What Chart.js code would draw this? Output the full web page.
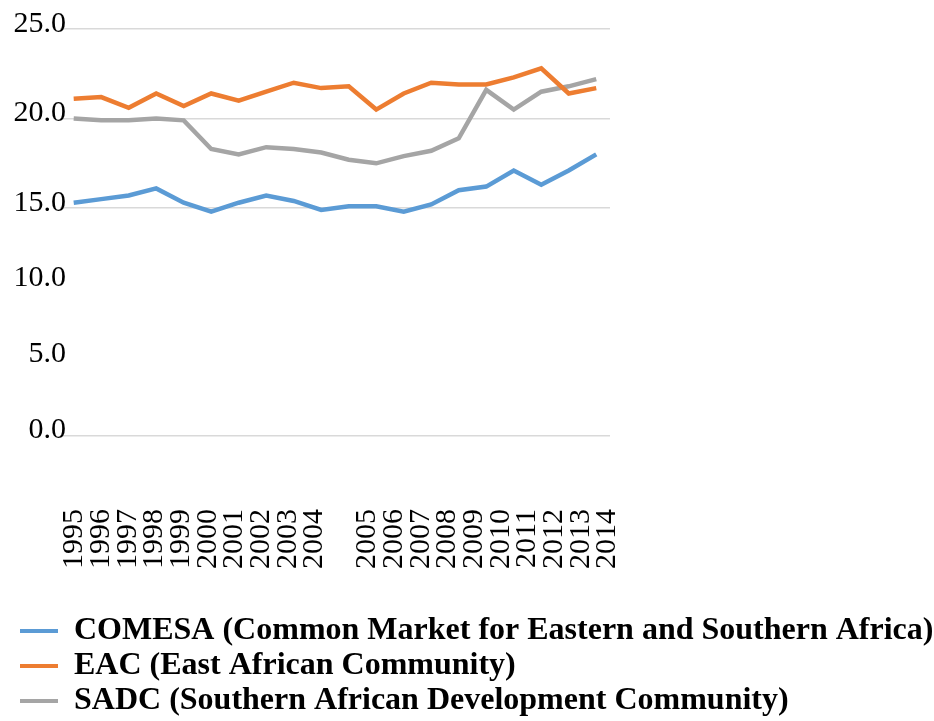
<!DOCTYPE html>
<html lang="en">
<head>
<meta charset="utf-8">
<title>COMESA / EAC / SADC</title>
<script src="https://cdn.jsdelivr.net/npm/chart.js@4.4.1/dist/chart.umd.min.js"></script>
<style>
    html, body { margin: 0; padding: 0; background: #fff; }
    #wrap { position: relative; width: 934px; height: 721px; }
</style>
</head>
<body>
<div id="wrap"><canvas id="chart"></canvas></div>
<script>
/**
 * Values
 */
const years = ['1995', '1996', '1997', '1998', '1999', '2000', '2001', '2002', '2003', '2004',
               '2005', '2006', '2007', '2008', '2009', '2010', '2011', '2012', '2013', '2014'];

// year labels as printed under the plot (one empty slot between 2004 and 2005)
const yearTicks = ['1995', '1996', '1997', '1998', '1999', '2000', '2001', '2002', '2003', '2004', '',
                   '2005', '2006', '2007', '2008', '2009', '2010', '2011', '2012', '2013', '2014'];

const comesa = [15.3, 15.5, 15.7, 16.1, 15.3, 14.8, 15.3, 15.7, 15.4, 14.9,
                15.1, 15.1, 14.8, 15.2, 16.0, 16.2, 17.1, 16.3, 17.1, 18.0];
const eac    = [21.1, 21.2, 20.6, 21.4, 20.7, 21.4, 21.0, 21.5, 22.0, 21.7,
                21.8, 20.5, 21.4, 22.0, 21.9, 21.9, 22.3, 22.8, 21.4, 21.7];
const sadc   = [20.0, 19.9, 19.9, 20.0, 19.9, 18.3, 18.0, 18.4, 18.3, 18.1,
                17.7, 17.5, 17.9, 18.2, 18.9, 21.6, 20.5, 21.5, 21.8, 22.2];

// y labels that are printed
const yLabelValues = [0, 5, 10, 15, 20, 25];

const seriesNames = [
    'COMESA (Common Market for Eastern and Southern Africa)',
    'EAC (East African Community)',
    'SADC (Southern African Development Community)'
];

const SERIF = "'Liberation Serif', 'Times New Roman', serif";
const GRID = '#d9d9d9';
const COLORS = ['#5b9bd5', '#ed7d31', '#a5a5a5'];

function lineDataset(label, data, color) {
    return {
        label, data,
        borderColor: color,
        backgroundColor: color,
        borderWidth: 4.5,
        pointRadius: 0,
        tension: 0,
        clip: false,
        xAxisID: 'x',
        yAxisID: 'yTop'
    };
}

function yLabel(v) {
    return yLabelValues.includes(v) ? v.toFixed(1) : '';
}

// y labels overlap the plot a little: fixed width, and no clipping to the axis box
function fitYAxis(s) {
    s.width = 41;
    s._computeLabelArea = () => undefined;
}

new Chart(document.getElementById('chart'), {
    type: 'line',
    data: {
        labels: years,
        datasets: [
            lineDataset(seriesNames[0], comesa, COLORS[0]),
            lineDataset(seriesNames[1], eac, COLORS[1]),
            lineDataset(seriesNames[2], sadc, COLORS[2])
        ]
    },
    options: {
        responsive: true,
        maintainAspectRatio: false,
        animation: false,
        devicePixelRatio: 1,
        layout: { padding: { left: 17, right: 0, top: 29, bottom: -6 } },
        plugins: {
            tooltip: { enabled: false },
            legend: {
                position: 'bottom',
                align: 'start',
                labels: {
                    boxWidth: 38,
                    boxHeight: 4,
                    padding: 3,
                    color: '#000',
                    font: { family: SERIF, size: 32, weight: 'bold' },
                    generateLabels: (chart) => Chart.defaults.plugins.legend.labels
                        .generateLabels(chart).map(item => ({ ...item, lineWidth: 0 }))
                }
            }
        },
        scales: {
            // data axis, hidden
            x: {
                type: 'category',
                display: false,
                offset: true
            },
            // printed year labels
            xLabels: {
                type: 'linear',
                position: 'bottom',
                min: -0.55,
                max: 20.1,
                grid: { display: false, drawTicks: false },
                border: { display: false },
                ticks: {
                    stepSize: 1,
                    includeBounds: false,
                    autoSkip: false,
                    minRotation: 90,
                    maxRotation: 90,
                    padding: 73,
                    color: '#000',
                    font: { family: SERIF, size: 30 },
                    callback: (v) => yearTicks[v] !== undefined ? yearTicks[v] : null
                },
                afterFit: (s) => { s.height = 176; }
            },
            // empty space right of the plot
            yRight: {
                type: 'linear',
                position: 'right',
                grid: { display: false, drawTicks: false },
                border: { display: false },
                ticks: { display: false },
                afterFit: (s) => { s.width = 324; }
            },
            // lower part of the broken value axis (0 - 15)
            yBottom: {
                type: 'linear',
                position: 'left',
                stack: 'left',
                stackWeight: 56,
                min: 0,
                max: 15,
                border: { display: false },
                grid: {
                    drawTicks: false,
                    lineWidth: 1.5,
                    color: (ctx) => ctx.tick && ctx.tick.value === 0 ? GRID : 'rgba(0,0,0,0)'
                },
                ticks: {
                    stepSize: 5,
                    padding: -6,
                    labelOffset: -6,
                    color: '#000',
                    font: { family: SERIF, size: 30 },
                    callback: (v) => v === 15 ? '' : yLabel(v)
                },
                afterFit: fitYAxis
            },
            // upper part of the value axis (15 - 25)
            yTop: {
                type: 'linear',
                position: 'left',
                stack: 'left',
                stackWeight: 44,
                min: 15,
                max: 25,
                border: { display: false },
                grid: { drawTicks: false, lineWidth: 1.5, color: GRID },
                ticks: {
                    stepSize: 2.5,
                    padding: -6,
                    labelOffset: -5,
                    color: '#000',
                    font: { family: SERIF, size: 30 },
                    callback: yLabel
                },
                afterFit: fitYAxis
            }
        }
    }
});
</script>
</body>
</html>
